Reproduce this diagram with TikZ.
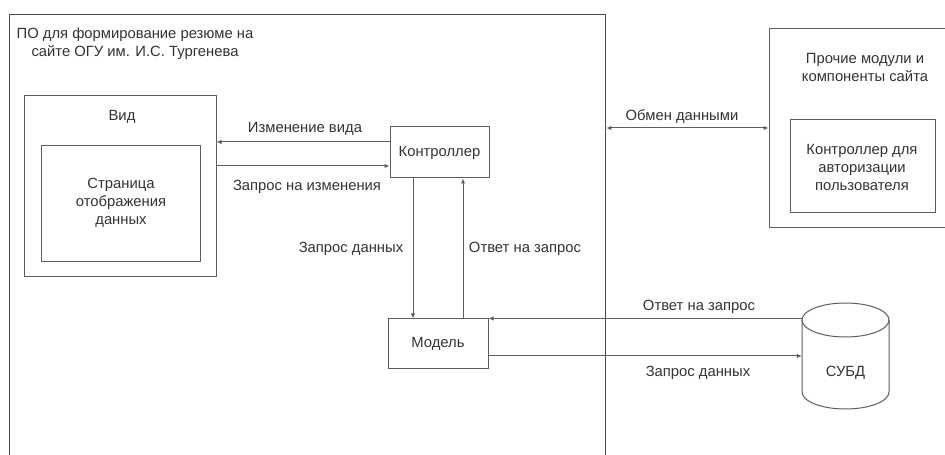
\documentclass[tikz,border=0pt]{standalone}
\usepackage{fontspec}
\setmainfont{Liberation Sans}
\usetikzlibrary{arrows.meta,calc}

\definecolor{linegray}{HTML}{5E5E5E}
\definecolor{framegray}{HTML}{4A4A4A}
\definecolor{textgray}{HTML}{333333}

\tikzset{
  x=1bp, y=-1bp,
  txt/.style={font=\fontsize{14.8bp}{18bp}\selectfont, text=textgray, inner sep=0pt, align=center},
  box/.style={draw=linegray, line width=1bp, fill=none, inner sep=0pt},
  arr/.style={draw=linegray, line width=1bp, -{Latex[length=5bp,width=4.5bp]}},
  darr/.style={draw=linegray, line width=1bp, {Latex[length=5bp,width=4.5bp]}-{Latex[length=5bp,width=4.5bp]}},
}

\begin{document}
\begin{tikzpicture}
\useasboundingbox[fill=white] (0,0) rectangle (945,455);

% software frame (runs past the lower edge)
\node[box, draw=framegray, line width=1.3bp, anchor=north west,
      minimum width=596bp, minimum height=470bp] (po) at (9,14) {};
\node[txt] (title) at (135,44) {ПО для формирование резюме на\\сайте ОГУ им. И.С. Тургенева};

% view
\node[box, minimum width=191bp, minimum height=181bp] (vid) at (120.5,186.5) {};
\node[txt] (vidt) at (122,117) {Вид};
\node[box, minimum width=158bp, minimum height=116bp] (page) at (121,204) {};
\node[txt] (paget) at (121,203) {Страница\\отображения\\данных};

% controller and model
\node[box, minimum width=99bp, minimum height=51bp] (ctrl) at (439.5,152.5) {};
\node[txt] at (ctrl.center) {Контроллер};
\node[box, minimum width=100bp, minimum height=50bp] (model) at (438,344) {};
\node[txt] at (model.center) {Модель};

% other site modules (runs past the right edge)
\node[box, minimum width=192bp, minimum height=199bp] (other) at (865,128.5) {};
\node[txt] (othert) at (865,67.5) {Прочие модули и\\компоненты сайта};
\node[box, minimum width=145bp, minimum height=93bp] (auth) at (862.5,166.5) {};
\node[txt] at (862,167) {Контроллер для\\авторизации\\пользователя};

% database cylinder
\node[minimum width=87bp, minimum height=106bp, inner sep=0pt] (db) at (845.5,356) {};
\draw[linegray, line width=1bp, fill=white]
  (802,320) -- (802,392) arc[start angle=180, end angle=360, x radius=43.5bp, y radius=17bp]
  -- (889,320) arc[start angle=0, end angle=180, x radius=43.5bp, y radius=17bp] -- cycle;
\draw[linegray, line width=1bp]
  (802,320) arc[start angle=180, end angle=360, x radius=43.5bp, y radius=17bp];
\node[txt] at (845.5,373) {СУБД};

% view <-> controller
\coordinate (c1) at ($(ctrl.west)+(0,-10.5)$);
\coordinate (c2) at ($(ctrl.west)+(0,13.5)$);
\draw[arr] (c1) -- (c1 -| vid.east);
\draw[arr] (c2 -| vid.east) -- (c2);
\node[txt] at (305,129) {Изменение вида};
\node[txt] at (307,187) {Запрос на изменения};

% controller <-> model
\coordinate (d1) at ($(ctrl.south)+(-26.5,0)$);
\coordinate (d2) at ($(model.north)+(25,0)$);
\draw[arr] (d1) -- (d1 |- model.north);
\draw[arr] (d2) -- (d2 |- ctrl.south);
\node[txt] at (351,249) {Запрос данных};
\node[txt] at (525,249) {Ответ на запрос};

% data exchange with the rest of the site
\coordinate (e1) at (605,128);
\draw[darr] (e1 -| po.east) -- (e1 -| other.west);
\node[txt] at (682,117) {Обмен данными};

% model <-> database
\coordinate (f2) at ($(model.east)+(0,12)$);
\draw[arr] (model.north east -| db.west) -- (model.north east);
\draw[arr] (f2) -- (f2 -| db.west);
\node[txt] at (699,307) {Ответ на запрос};
\node[txt] at (698,373) {Запрос данных};
\end{tikzpicture}
\end{document}
